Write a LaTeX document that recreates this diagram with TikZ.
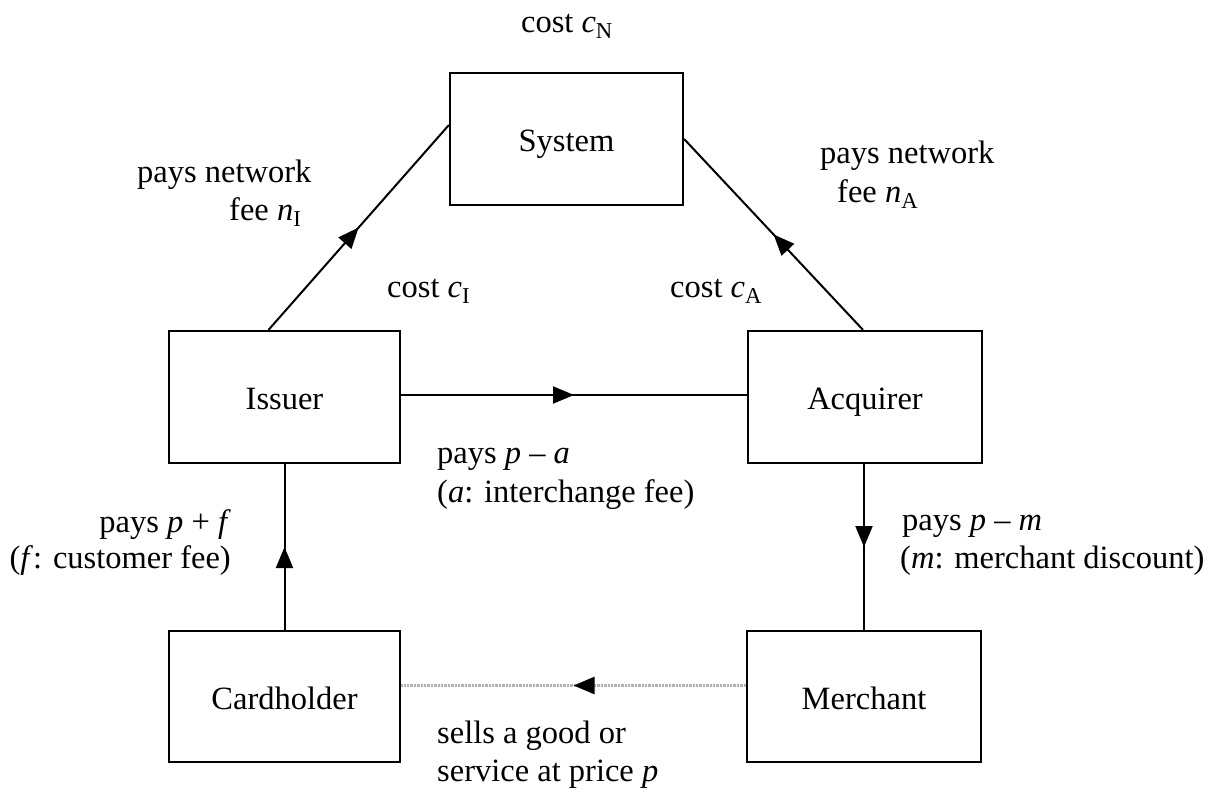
\documentclass[tikz,border=0pt]{standalone}
\usepackage{fontspec}
\setmainfont{Liberation Serif}
\usetikzlibrary{arrows.meta,decorations.markings,calc}
\begin{document}
\begin{tikzpicture}[x=1pt,y=-1pt,
  every node/.style={font=\fontsize{32.5}{38}\selectfont},
  box/.style={draw, line width=2.2pt, text height=26pt, text depth=1pt, inner sep=0pt},
  lbl/.style={inner sep=0pt},
  midarrow/.style={postaction={decorate}, decoration={markings, mark=at position 0.5 with {\arrow[black]{Triangle[length=21pt,width=17pt]}}}},
  conn/.style={line width=2pt, midarrow},
  sale/.style={line width=2.4pt, draw=gray!60, densely dotted, midarrow}
]
\useasboundingbox (0,0) rectangle (1220,793);
% boxes
\node[box, minimum width=233pt, minimum height=132pt] (sys) at (566.5,139) {System};
\node[box, minimum width=231pt, minimum height=132pt] (iss) at (284.5,397) {Issuer};
\node[box, minimum width=234pt, minimum height=132pt] (acq) at (865,397) {Acquirer};
\node[box, minimum width=231pt, minimum height=131pt] (card) at (284.5,696.5) {Cardholder};
\node[box, minimum width=234pt, minimum height=131pt] (mer) at (864,696.5) {Merchant};
% connectors
\draw[conn] ($(iss.north)+(-16,0)$) -- ($(sys.west)+(0,-14)$);
\draw[conn] ($(acq.north)+(-2,0)$) -- (sys.east);
\draw[conn] ($(iss.east)+(0,-2)$) -- ($(acq.west)+(0,-2)$);
\draw[conn] (card.north) -- (iss.south);
\draw[conn] ($(acq.south)+(-1,0)$) -- ($(mer.north)$);
\draw[sale] ($(mer.west)+(0,-11)$) -- ($(card.east)+(0,-11)$);
% labels
\node[lbl, anchor=base] (cN) at (567,32) {cost \textit{c}\textsubscript{N}};
\node[lbl, anchor=base west] (lI1) at (137,182) {pays network};
\node[lbl, anchor=base west] (lI2) at (229,220) {fee \textit{n}\textsubscript{I}};
\node[lbl, anchor=base west] (cI) at (387,297) {cost \textit{c}\textsubscript{I}};
\node[lbl, anchor=base west] (lA1) at (820,163) {pays network};
\node[lbl, anchor=base west] (lA2) at (837,202) {fee \textit{n}\textsubscript{A}};
\node[lbl, anchor=base west] (cA) at (670,297) {cost \textit{c}\textsubscript{A}};
\node[lbl, anchor=base west] (pa1) at (437,463) {pays \textit{p} – \textit{a}};
\node[lbl, anchor=base west] (pa2) at (437,502) {(\textit{a}: interchange fee)};
\node[lbl, anchor=base east] (pf1) at (231,532) {pays \textit{p} + \textit{f}};
\node[lbl, anchor=base east] (pf2) at (231,568) {(\textit{f}: customer fee)};
\node[lbl, anchor=base west] (pm1) at (902,530) {pays \textit{p} – \textit{m}};
\node[lbl, anchor=base west] (pm2) at (900,568) {(\textit{m}: merchant discount)};
\node[lbl, anchor=base west] (s1) at (437,743) {sells a good or};
\node[lbl, anchor=base west] (s2) at (437,781) {service at price \textit{p}};
\end{tikzpicture}
\end{document}
